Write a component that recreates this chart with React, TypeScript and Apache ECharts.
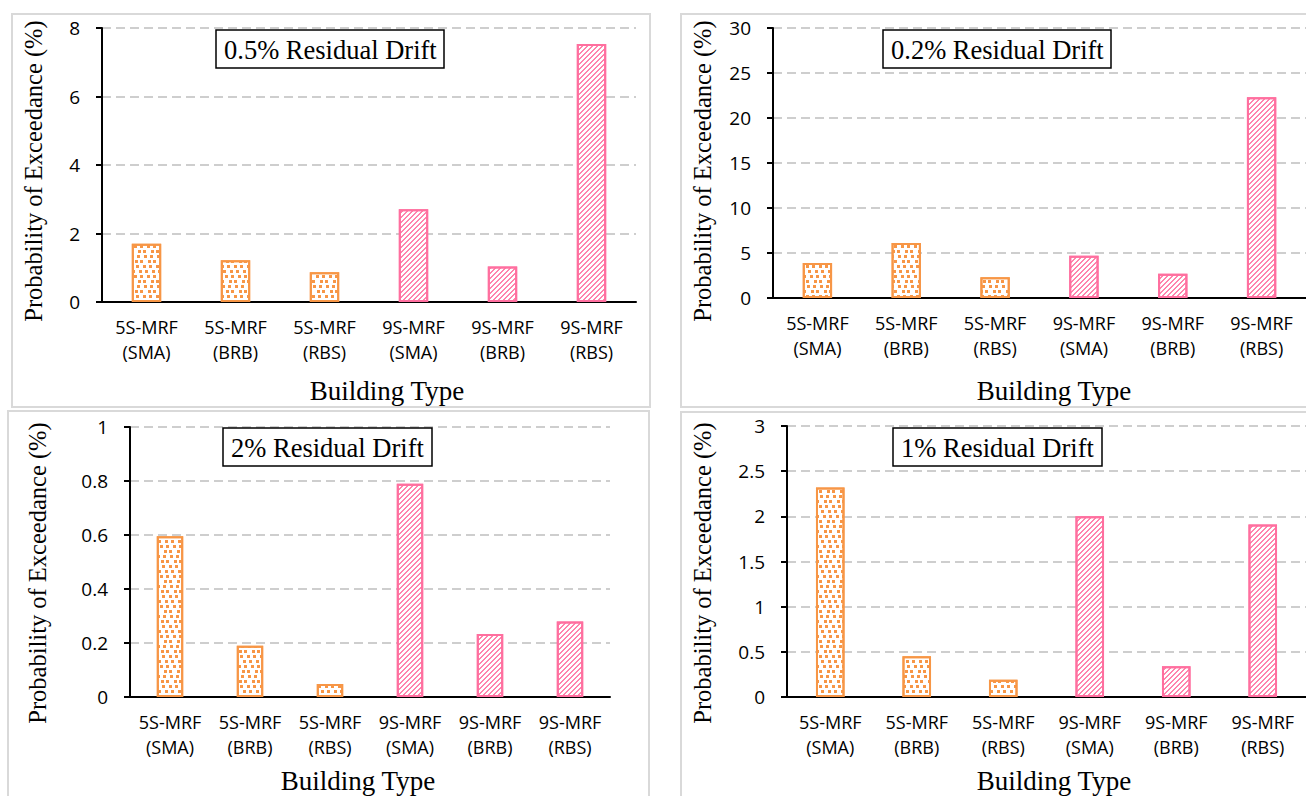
import { useEffect, useRef } from 'react';
import * as echarts from 'echarts';

const categories = ['5S-MRF\n(SMA)', '5S-MRF\n(BRB)', '5S-MRF\n(RBS)', '9S-MRF\n(SMA)', '9S-MRF\n(BRB)', '9S-MRF\n(RBS)'];
const drift05 = [1.7, 1.22, 0.87, 2.71, 1.04, 7.53];
const drift02 = [3.9, 6.1, 2.3, 4.7, 2.7, 22.3];
const drift2 = [0.595, 0.19, 0.048, 0.79, 0.233, 0.28];
const drift1 = [2.32, 0.45, 0.19, 2.0, 0.34, 1.91];
const panelTitles = ['0.5% Residual Drift', '0.2% Residual Drift', '2% Residual Drift', '1% Residual Drift'];
const yMax = [8, 30, 1, 3];
const yStep = [2, 5, 0.2, 0.5];
const xAxisTitle = 'Building Type';
const yAxisTitle = 'Probability of Exceedance (%)';

const ORANGE = '#f79646';
const PINK = '#ff6f9f';
const SERIF = '"Liberation Serif", "Times New Roman", serif';
const SANS = '"Open Sans", "Noto Sans", sans-serif';

const grids = [
  { left: 102, top: 28, width: 534, height: 274 },
  { left: 773, top: 28, width: 534, height: 270 },
  { left: 130, top: 427, width: 480, height: 270 },
  { left: 787, top: 426, width: 526, height: 271 },
];
const titlePos = [
  { left: 216, top: 30 },
  { left: 883, top: 30 },
  { left: 223, top: 428 },
  { left: 893, top: 428 },
];
const panels = [
  { x: 12, y: 14, w: 638, h: 393 },
  { x: 681, y: 14, w: 640, h: 393 },
  { x: 8, y: 411, w: 641, h: 400 },
  { x: 681, y: 412, w: 640, h: 400 },
];
const yTitlePos = [
  { x: 33, y: 171 },
  { x: 702, y: 171 },
  { x: 37, y: 573 },
  { x: 702, y: 573 },
];
const xTitlePos = [
  { x: 387, y: 391 },
  { x: 1054, y: 391 },
  { x: 358, y: 781 },
  { x: 1054, y: 781 },
];

// scattered small squares
const orangeDecal = {
  symbol: 'rect',
  symbolSize: 1,
  color: ORANGE,
  dashArrayX: [
    [3, 3, 3, 4],
    [0, 2, 3, 4, 3, 1],
    [0, 4, 3, 3, 3, 0],
    [3, 5, 3, 2],
    [0, 1, 3, 3, 3, 3],
    [0, 5, 3, 2, 3, 0],
  ],
  dashArrayY: [3, 2],
};
// "/" diagonal hatch built row by row (each 1px row shifts the dot left by 1px)
const pinkDecal = {
  symbol: 'rect',
  symbolSize: 1,
  color: 'rgba(255,111,159,0.85)',
  dashArrayX: [
    [0, 3, 2, 0],
    [0, 2, 2, 1],
    [0, 1, 2, 2],
    [2, 3],
    [1, 3, 1, 0],
  ],
  dashArrayY: [1, 0],
};

export default function App() {
  const ref = useRef<HTMLDivElement>(null);
  useEffect(() => {
    if (!ref.current) return;
    const chart = echarts.init(ref.current, undefined, { renderer: 'svg' });
    const allData = [drift05, drift02, drift2, drift1];
    const option: any = {
      animation: false,
      backgroundColor: '#fff',
      title: panelTitles.map((t, i) => ({
        text: t,
        left: titlePos[i].left,
        top: titlePos[i].top,
        padding: [6, 8, 5, 8],
        borderColor: '#000',
        borderWidth: 1.5,
        textStyle: { fontFamily: SERIF, fontSize: 26.5, fontWeight: 'normal', color: '#000' },
      })),
      grid: grids.map((g) => ({ ...g, containLabel: false })),
      xAxis: grids.map((_, i) => ({
        gridIndex: i,
        type: 'category',
        data: categories,
        axisLine: { lineStyle: { color: '#000', width: 2 } },
        axisTick: { show: false },
        axisLabel: { interval: 0, fontFamily: SANS, fontSize: 18, color: '#000', lineHeight: 25, margin: 12 },
      })),
      yAxis: grids.map((_, i) => ({
        gridIndex: i,
        type: 'value',
        min: 0,
        max: yMax[i],
        interval: yStep[i],
        axisLine: { show: true, lineStyle: { color: '#000', width: 2 } },
        axisTick: { show: true, length: 6, lineStyle: { color: '#000', width: 2 } },
        axisLabel: { fontFamily: SANS, fontSize: 19, color: '#000', margin: 22 },
        splitLine: { lineStyle: { color: '#bfbfbf', width: 1.5, type: [9, 5] } },
      })),
      series: allData.map((vals, i) => ({
        type: 'bar',
        xAxisIndex: i,
        yAxisIndex: i,
        barWidth: '33%',
        data: vals.map((v, k) => ({
          value: v,
          itemStyle: {
            color: '#fff',
            borderColor: k < 3 ? ORANGE : PINK,
            borderWidth: 2,
            decal: k < 3 ? orangeDecal : pinkDecal,
          },
        })),
      })),
      graphic: [
        ...panels.map((p) => ({
          type: 'rect',
          silent: true,
          z: -10,
          shape: { x: p.x, y: p.y, width: p.w, height: p.h },
          style: { fill: 'none', stroke: '#d9d9d9', lineWidth: 2 },
        })),
        ...yTitlePos.map((p) => ({
          type: 'text',
          x: p.x,
          y: p.y,
          rotation: Math.PI / 2,
          style: { text: yAxisTitle, fontFamily: SERIF, fontSize: 24.5, fill: '#000', align: 'center', verticalAlign: 'middle' },
        })),
        ...xTitlePos.map((p) => ({
          type: 'text',
          x: p.x,
          y: p.y,
          style: { text: xAxisTitle, fontFamily: SERIF, fontSize: 27, fill: '#000', align: 'center', verticalAlign: 'middle' },
        })),
      ],
    };
    chart.setOption(option);
    return () => chart.dispose();
  }, []);
  return <div ref={ref} style={{ position: 'fixed', left: 0, top: 0, width: 1306, height: 796 }} />;
}
